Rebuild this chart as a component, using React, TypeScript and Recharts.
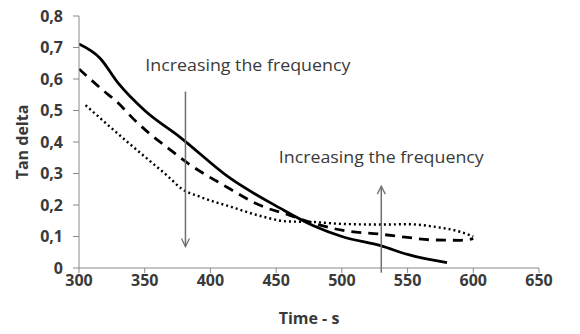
import React from "react";
import { LineChart, Line, XAxis, YAxis, ReferenceLine, ReferenceDot } from "recharts";

// values
const solidTime = [300, 316, 330, 350, 377, 415, 453, 478, 500, 530, 550, 580];
const solidTan = [0.711, 0.666, 0.586, 0.5, 0.415, 0.285, 0.19, 0.135, 0.1, 0.07, 0.043, 0.017];

const dashedTime = [300, 318, 330, 341, 355, 368, 382, 410, 440, 460, 480, 500, 530, 550, 570, 590, 600];
const dashedTan = [0.632, 0.565, 0.523, 0.475, 0.422, 0.38, 0.335, 0.263, 0.195, 0.168, 0.14, 0.12, 0.107, 0.097, 0.089, 0.088, 0.093];

const dottedTime = [305, 322, 338, 353, 368, 378, 392, 415, 440, 458, 478, 500, 530, 550, 572, 590, 600];
const dottedTan = [0.517, 0.454, 0.396, 0.343, 0.29, 0.252, 0.226, 0.195, 0.163, 0.148, 0.146, 0.14, 0.138, 0.139, 0.13, 0.115, 0.1];

const xTicks = [300, 350, 400, 450, 500, 550, 600, 650];
const yTicks = [0, 0.1, 0.2, 0.3, 0.4, 0.5, 0.6, 0.7, 0.8];

// arrows: time, start value, end value (head at the end)
const downArrow = { t: 381, from: 0.56, to: 0.068 };
const upArrow = { t: 530, from: -0.015, to: 0.26 };

const labelText = "Increasing the frequency";
const labels = [
  { t: 350.5, v: 0.645 },
  { t: 452, v: 0.355 },
];

const toRows = (ts: number[], vs: number[]) => ts.map((t, i) => ({ t, v: vs[i] }));

const axisColor = "#8a8a8a";
const textColor = "#3a3a3a";
const font = "'Open Sans', sans-serif";

const Arrow = (props: any) => {
  const { x1, y1, x2, y2 } = props;
  if ([x1, y1, x2, y2].some((n) => typeof n !== "number")) return null;
  const dir = y2 < y1 ? -1 : 1;
  return (
    <g>
      <line x1={x1} y1={y1} x2={x2} y2={y2} stroke="#6f6f6f" strokeWidth={1.5} />
      <path
        d={`M${x2 - 4},${y2 - dir * 8} L${x2},${y2} L${x2 + 4},${y2 - dir * 8}`}
        fill="none"
        stroke="#6f6f6f"
        strokeWidth={1.3}
      />
    </g>
  );
};

const TextLabel = (props: any) => {
  const { cx, cy } = props;
  return (
    <text
      x={cx}
      y={cy}
      fill={textColor}
      fontFamily={font}
      fontSize={17}
      dominantBaseline="central"
      textLength={205}
      lengthAdjust="spacingAndGlyphs"
    >
      {labelText}
    </text>
  );
};

export default function App() {
  const fmt = (v: number) => (v === 0 ? "0" : v.toFixed(1).replace(".", ","));
  return (
    <div style={{ position: "absolute", left: 0, top: 0, width: 580, height: 334, background: "#fff" }}>
      <LineChart width={580} height={334} margin={{ top: 16, right: 41, bottom: 0, left: 0 }}>
        <XAxis
          dataKey="t"
          type="number"
          domain={[300, 650]}
          ticks={xTicks}
          allowDataOverflow
          stroke={axisColor}
          tickSize={5}
          tickMargin={2}
          height={66}
          tick={{ fill: textColor, fontFamily: font, fontWeight: 700, fontSize: 16 }}
          label={{
            value: "Time - s",
            position: "insideBottom",
            offset: 10,
            fill: textColor,
            fontFamily: font,
            fontWeight: 700,
            fontSize: 16,
          }}
        />
        <YAxis
          type="number"
          domain={[0, 0.8]}
          ticks={yTicks}
          allowDataOverflow
          width={79}
          stroke={axisColor}
          tickSize={6}
          tickMargin={10}
          tickFormatter={fmt}
          tick={{ fill: textColor, fontFamily: font, fontWeight: 700, fontSize: 16 }}
          label={{
            value: "Tan delta",
            angle: -90,
            position: "insideLeft",
            offset: 22,
            style: { textAnchor: "middle" },
            fill: textColor,
            fontFamily: font,
            fontWeight: 700,
            fontSize: 16,
          }}
        />
        <Line
          data={toRows(dottedTime, dottedTan)}
          dataKey="v"
          type="monotone"
          stroke="#000"
          strokeWidth={2.4}
          strokeDasharray="2 3"
          dot={false}
          isAnimationActive={false}
        />
        <Line
          data={toRows(dashedTime, dashedTan)}
          dataKey="v"
          type="monotone"
          stroke="#000"
          strokeWidth={2.8}
          strokeDasharray="10 7"
          dot={false}
          isAnimationActive={false}
        />
        <Line
          data={toRows(solidTime, solidTan)}
          dataKey="v"
          type="monotone"
          stroke="#000"
          strokeWidth={2.8}
          dot={false}
          isAnimationActive={false}
        />
        <ReferenceLine
          segment={[
            { x: downArrow.t, y: downArrow.from },
            { x: downArrow.t, y: downArrow.to },
          ]}
          shape={Arrow}
          ifOverflow="visible"
        />
        <ReferenceLine
          segment={[
            { x: upArrow.t, y: upArrow.from },
            { x: upArrow.t, y: upArrow.to },
          ]}
          shape={Arrow}
          ifOverflow="visible"
        />
        {labels.map((l, i) => (
          <ReferenceDot key={i} x={l.t} y={l.v} r={0} shape={TextLabel} ifOverflow="visible" />
        ))}
      </LineChart>
    </div>
  );
}
